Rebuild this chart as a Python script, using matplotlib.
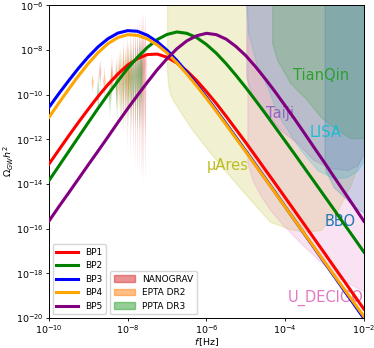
import matplotlib
matplotlib.use("Agg")
import matplotlib.pyplot as plt
from matplotlib.patches import Patch
import numpy as np

# ---- benchmark point spectra (log10 f, log10 Omega h^2) ----
LOGF = [-10.0, -9.75, -9.5, -9.25, -9.0, -8.75, -8.5, -8.25, -8.0, -7.75, -7.5,
        -7.25, -7.0, -6.75, -6.5, -6.25, -6.0, -5.75, -5.5, -5.25, -5.0, -4.75,
        -4.5, -4.25, -4.0, -3.75, -3.5, -3.25, -3.0, -2.75, -2.5, -2.25, -2.0]
BP1 = [-13.11, -12.48, -11.85, -11.24, -10.65, -10.08, -9.55, -9.08, -8.68, -8.39, -8.21,
       -8.19, -8.33, -8.59, -8.94, -9.37, -9.87, -10.40, -10.97, -11.56, -12.15, -12.76,
       -13.38, -13.99, -14.61, -15.23, -15.85, -16.48, -17.10, -17.73, -18.35, -18.98, -19.60]
BP2 = [-13.85, -13.20, -12.55, -11.90, -11.25, -10.61, -9.99, -9.40, -8.83, -8.33, -7.89,
       -7.54, -7.31, -7.20, -7.26, -7.45, -7.76, -8.15, -8.62, -9.14, -9.69, -10.27,
       -10.86, -11.47, -12.08, -12.69, -13.31, -13.93, -14.55, -15.17, -15.80, -16.42, -17.05]
BP3 = [-10.57, -9.96, -9.38, -8.82, -8.31, -7.86, -7.50, -7.25, -7.14, -7.17, -7.35,
       -7.64, -8.02, -8.48, -9.00, -9.55, -10.12, -10.71, -11.31, -11.92, -12.53, -13.15,
       -13.77, -14.39, -15.02, -15.64, -16.27, -16.89, -17.52, -18.14, -18.77, -19.39, -20.02]
BP4 = [-11.02, -10.38, -9.76, -9.16, -8.61, -8.12, -7.72, -7.45, -7.32, -7.35, -7.51,
       -7.78, -8.14, -8.58, -9.08, -9.61, -10.17, -10.75, -11.35, -11.96, -12.56, -13.18,
       -13.79, -14.41, -15.03, -15.64, -16.26, -16.87, -17.49, -18.10, -18.71, -19.32, -19.93]
BP5 = [-15.66, -15.02, -14.40, -13.77, -13.14, -12.52, -11.89, -11.25, -10.63, -10.03, -9.45,
       -8.89, -8.39, -7.95, -7.60, -7.37, -7.26, -7.32, -7.52, -7.85, -8.26, -8.76,
       -9.31, -9.89, -10.50, -11.12, -11.76, -12.41, -13.05, -13.71, -14.36, -15.01, -15.67]

# ---- detector sensitivity boundaries (log10 f, log10 Omega h^2) ----
MUARES_LOGF = [-7.0, -7.0, -6.97, -6.92, -6.85, -6.41, -5.90, -5.32, -4.81, -4.38, -3.87,
               -3.49, -3.10, -2.67, -2.34, -2.04, -1.98]
MUARES_LOGO = [-5.0, -9.0, -9.6, -10.0, -10.25, -11.46, -12.62, -13.83, -14.86, -15.70, -16.02,
               -16.15, -16.06, -15.17, -14.05, -12.62, -12.4]
DECIGO_LOGF = [-4.96, -4.96, -4.83, -4.63, -4.38, -4.05, -3.61, -3.10, -2.60, -2.01, -1.98]
DECIGO_LOGO = [-5.0, -13.07, -13.83, -14.5, -15.17, -15.84, -16.64, -17.49, -18.25, -18.79, -18.8]
LISA_LOGF = [-5.0, -4.99, -4.94, -4.71, -4.45, -4.2, -4.05, -3.61, -3.18, -2.77, -2.42, -2.16, -1.98]
LISA_LOGO = [-5.0, -6.0, -7.25, -8.77, -9.67, -10.83, -11.28, -12.48, -13.38, -13.74, -13.69, -13.38, -12.93]
TAIJI_LOGF = [-4.99, -4.99, -4.83, -4.55, -4.12, -3.69, -3.28, -2.85, -2.42, -2.16, -1.98]
TAIJI_LOGO = [-5.0, -9.22, -10.11, -10.7, -11.59, -12.17, -12.93, -13.29, -13.38, -13.16, -12.62]
TIANQIN_LOGF = [-4.33, -4.33, -4.2, -3.87, -3.44, -3.1, -2.67, -2.34, -1.98]
TIANQIN_LOGO = [-5.0, -7.7, -8.46, -9.49, -10.25, -11.0, -11.59, -11.95, -11.95]
BBO_LOGF = [-3.0, -3.0, -2.98, -2.77, -2.42, -2.21, -1.98]
BBO_LOGO = [-5.0, -12.9, -13.38, -14.14, -14.72, -15.08, -15.3]

# ---- PTA free-spectrum violins: log10 f, lower / mode / upper log10 Omega h^2 ----
NG_LOGF = [-8.70, -8.40, -8.22, -8.10, -8.00, -7.92, -7.86, -7.80, -7.75, -7.70, -7.66, -7.62, -7.59, -7.55]
NG_LO = [-9.8, -10.2, -10.8, -11.8, -12.5, -12.8, -13.0, -13.3, -13.5, -13.6, -13.8, -13.9, -14.0, -14.0]
NG_MID = [-9.0, -9.1, -9.2, -9.1, -9.0, -8.9, -8.9, -8.9, -8.8, -8.8, -8.7, -8.7, -8.6, -8.6]
NG_HI = [-8.4, -8.2, -8.0, -7.6, -7.3, -7.1, -6.9, -6.8, -6.6, -6.5, -6.4, -6.4, -6.3, -6.3]
EPTA_LOGF = [-8.89, -8.59, -8.41, -8.29, -8.19, -8.11, -8.04, -7.99, -7.94]
EPTA_LO = [-9.95, -10.4, -10.5, -10.8, -11.6, -11.5, -11.3, -11.2, -11.0]
EPTA_MID = [-9.45, -9.4, -9.3, -9.2, -9.0, -8.9, -8.9, -9.0, -9.1]
EPTA_HI = [-9.05, -8.75, -8.6, -8.3, -7.9, -7.8, -7.7, -7.6, -7.6]
PPTA_LOGF = [-8.75, -8.45, -8.27, -8.15, -8.05, -7.97, -7.90, -7.85, -7.80, -7.75, -7.71, -7.67, -7.64]
PPTA_LO = [-11.0, -11.1, -11.3, -11.6, -11.7, -11.5, -11.8, -11.6, -11.5, -11.7, -11.6, -11.5, -11.5]
PPTA_MID = [-9.9, -10.0, -9.7, -9.5, -9.4, -9.3, -9.3, -9.2, -9.2, -9.1, -9.1, -9.0, -9.0]
PPTA_HI = [-9.0, -9.2, -8.4, -8.1, -7.9, -7.8, -7.7, -7.7, -7.6, -7.6, -7.6, -7.5, -7.5]


def violins(ax, logf, lo, mid, hi, color, half=0.03, alpha=0.35):
    for f0, a, m, b in zip(logf, lo, mid, hi):
        ys = [a, a + 0.4 * (m - a), m, m + 0.5 * (b - m), b]
        ws = [0.0, 0.2 * half, half, 0.3 * half, 0.0]
        xl = [10 ** (f0 - w) for w in ws]
        xr = [10 ** (f0 + w) for w in ws]
        yy = [10 ** y for y in ys]
        ax.fill(xl + xr[::-1], yy + yy[::-1], color=color, alpha=alpha, lw=0, zorder=2)


def pw(vals):
    return 10 ** np.asarray(vals)


fig = plt.figure(figsize=(3.74, 3.48), dpi=100)
ax = fig.add_axes([0.131, 0.0862, 0.842, 0.899])

# detector regions
regions = [
    (MUARES_LOGF, MUARES_LOGO, "#bcbd22"),
    (DECIGO_LOGF, DECIGO_LOGO, "#e377c2"),
    (LISA_LOGF, LISA_LOGO, "#17becf"),
    (TAIJI_LOGF, TAIJI_LOGO, "#9467bd"),
    (TIANQIN_LOGF, TIANQIN_LOGO, "#2ca02c"),
    (BBO_LOGF, BBO_LOGO, "#1f77b4"),
]
for lf, lo, c in regions:
    ax.fill_between(pw(lf), pw(lo), 1e-4, color=c, alpha=0.2, lw=1.0, zorder=1)

labels = [
    ("TianQin", -3.08, -9.13, "#2ca02c"),
    ("Taiji", -4.12, -10.83, "#9467bd"),
    ("LISA", -2.98, -11.68, "#17becf"),
    ("µAres", -5.47, -13.16, "#bcbd22"),
    ("BBO", -2.60, -15.70, "#1f77b4"),
    ("U_DECIGO", -2.98, -19.10, "#e377c2"),
]
for txt, lf, lo, c in labels:
    ax.text(10 ** lf, 10 ** lo, txt, color=c, fontsize=10.5, ha="center", va="center", zorder=3)

# PTA violins
violins(ax, NG_LOGF, NG_LO, NG_MID, NG_HI, "#d62728", alpha=0.28)
violins(ax, EPTA_LOGF, EPTA_LO, EPTA_MID, EPTA_HI, "#ff7f0e", alpha=0.4)
violins(ax, PPTA_LOGF, PPTA_LO, PPTA_MID, PPTA_HI, "#2ca02c", alpha=0.35)

# benchmark spectra
f = pw(LOGF)
lines = []
for vals, c, lab in [(BP1, "red", "BP1"), (BP2, "green", "BP2"), (BP3, "blue", "BP3"),
                     (BP4, "orange", "BP4"), (BP5, "purple", "BP5")]:
    ln, = ax.plot(f, pw(vals), color=c, lw=2.2, label=lab, zorder=4)
    lines.append(ln)

ax.set_xscale("log")
ax.set_yscale("log")
ax.set_xlim(1e-10, 1e-2)
ax.set_ylim(1e-20, 1e-6)
ax.set_xticks([1e-10, 1e-8, 1e-6, 1e-4, 1e-2])
ax.set_yticks([10.0 ** k for k in range(-20, -5, 2)])
ax.xaxis.set_minor_locator(matplotlib.ticker.NullLocator())
ax.yaxis.set_minor_locator(matplotlib.ticker.NullLocator())
ax.tick_params(labelsize=6.8, length=2.5, width=0.6, pad=1.5)
for s in ax.spines.values():
    s.set_linewidth(0.7)
ax.set_xlabel(r"$f\,$[Hz]", fontsize=6.8, labelpad=0)
ax.set_ylabel(r"$\Omega_{GW}h^2$", fontsize=6.8, labelpad=0)

leg1 = ax.legend(handles=lines, loc="lower left", fontsize=6.5, handlelength=2.4,
                 bbox_to_anchor=(0.0, 0.0), borderaxespad=0.4, framealpha=0.8)
ax.add_artist(leg1)
patches = [Patch(color="#d62728", alpha=0.5, label="NANOGRAV"),
           Patch(color="#ff7f0e", alpha=0.5, label="EPTA DR2"),
           Patch(color="#2ca02c", alpha=0.5, label="PPTA DR3")]
ax.legend(handles=patches, loc="lower left", fontsize=6.5, handlelength=2.4,
          bbox_to_anchor=(0.182, 0.0), borderaxespad=0.4, framealpha=0.8)

fig.savefig("out.png", dpi=100)
